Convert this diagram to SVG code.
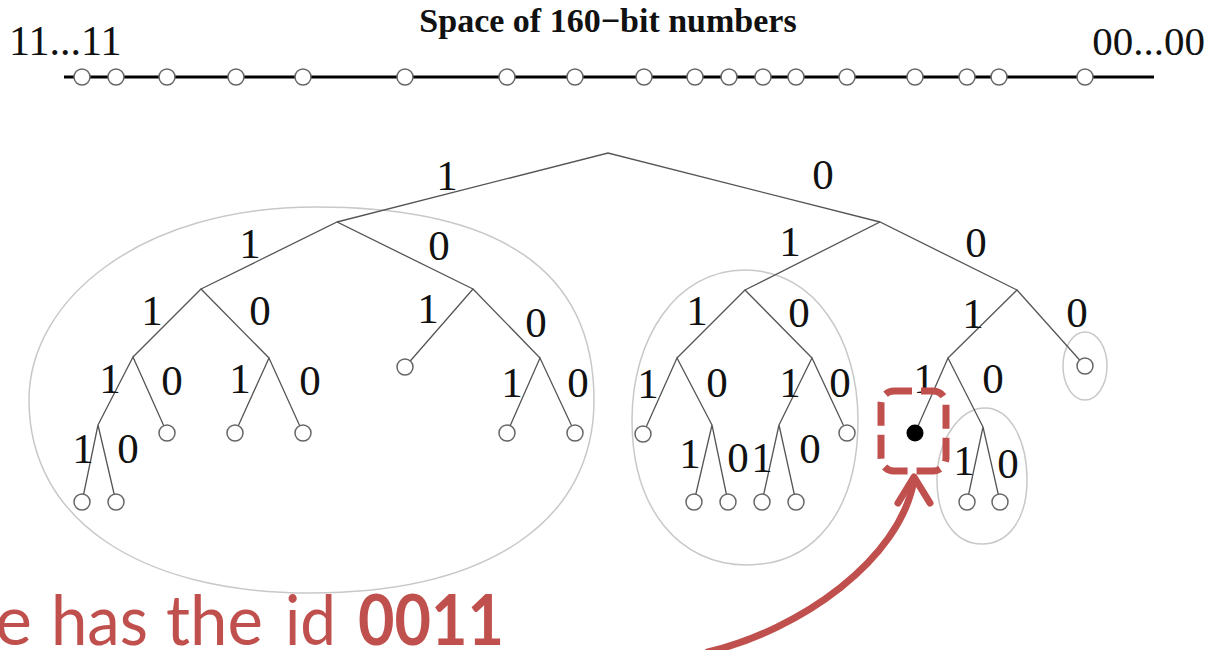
<svg xmlns="http://www.w3.org/2000/svg" width="1212" height="650" viewBox="0 0 1212 650">
<style>
.t{font-family:"Liberation Serif","Times New Roman",serif;fill:#111}
.lbl{font-family:"Liberation Serif","Times New Roman",serif;font-size:43px;fill:#111;text-anchor:middle}
.e{stroke:#555;stroke-width:1.3;fill:none}
.blob{fill:none;stroke:#c8c8c8;stroke-width:1.5}
.leaf{fill:#fff;stroke:#666;stroke-width:1.5}
.red{font-family:Lato,"Open Sans",sans-serif;font-size:70px;fill:#C0504D}
</style>
<rect width="1212" height="650" fill="#fff"/>
<g id="header">
<text class="t" x="9" y="55" font-size="42">11...11</text>
<text class="t" x="608" y="32" font-size="34" font-weight="bold" text-anchor="middle">Space of 160−bit numbers</text>
<text class="t" x="1205" y="55" font-size="41" text-anchor="end">00...00</text>
</g>
<g id="number-line">
<line x1="64" y1="77" x2="1154" y2="77" stroke="#000" stroke-width="3"/>
<g class="leaf">
<circle cx="82" cy="77" r="8"/><circle cx="116" cy="77" r="8"/><circle cx="167" cy="77" r="8"/><circle cx="236" cy="77" r="8"/><circle cx="303" cy="77" r="8"/><circle cx="405" cy="77" r="8"/><circle cx="507" cy="77" r="8"/><circle cx="575" cy="77" r="8"/><circle cx="644" cy="77" r="8"/><circle cx="695" cy="77" r="8"/><circle cx="729" cy="77" r="8"/><circle cx="763" cy="77" r="8"/><circle cx="796" cy="77" r="8"/><circle cx="847" cy="77" r="8"/><circle cx="915" cy="77" r="8"/><circle cx="967" cy="77" r="8"/><circle cx="999" cy="77" r="8"/><circle cx="1085" cy="77" r="8"/>
</g>
</g>
<g id="groups">
<path class="blob" d="M316 207 C500 207 594 270 594 400 C594 520 490 593 310 593 C140 593 29 520 29 400 C29 300 140 207 316 207 Z"/>
<path class="blob" d="M745 270 C815 270 858 340 858 420 C858 510 815 565 747 565 C680 565 632 510 632 420 C632 340 675 270 745 270 Z"/>
<ellipse class="blob" cx="1085" cy="366" rx="22" ry="34"/>
<path class="blob" d="M985 408 C1010 408 1027 440 1027 480 C1027 520 1008 544 982 544 C956 544 937 520 937 480 C937 440 960 408 985 408 Z"/>
</g>
<g id="connectors" class="e">
<polyline points="337,222 608,153 880,222"/>
<polyline points="201,289 337,222 473,289"/>
<polyline points="745,290 880,222 1017,290"/>
<polyline points="133,357 201,289 269,358"/>
<polyline points="405,367 473,289 540,358"/>
<polyline points="677,358 745,290 812,358"/>
<polyline points="948,358 1017,290 1085,366"/>
<polyline points="98,425 133,357 167,433"/>
<polyline points="235,433 269,358 303,433"/>
<polyline points="507,433 540,358 575,433"/>
<polyline points="643,434 677,358 712,425"/>
<polyline points="779,425 812,358 847,433"/>
<polyline points="915,433 948,358 983,427"/>
<polyline points="82,502 98,425 116,502"/>
<polyline points="694,502 712,425 728,502"/>
<polyline points="762,502 779,425 796,502"/>
<polyline points="967,502 983,427 1000,502"/>
</g>
<g id="leaves" class="leaf">
<circle cx="405" cy="367" r="8"/><circle cx="1085" cy="366" r="8"/>
<circle cx="167" cy="433" r="8"/><circle cx="235" cy="433" r="8"/><circle cx="303" cy="433" r="8"/><circle cx="507" cy="433" r="8"/><circle cx="575" cy="433" r="8"/><circle cx="643" cy="434" r="8"/><circle cx="847" cy="433" r="8"/>
<circle cx="82" cy="502" r="8"/><circle cx="116" cy="502" r="8"/><circle cx="694" cy="502" r="8"/><circle cx="728" cy="502" r="8"/><circle cx="762" cy="502" r="8"/><circle cx="796" cy="502" r="8"/><circle cx="967" cy="502" r="8"/><circle cx="1000" cy="502" r="8"/>
</g>
<g id="node-0011">
<circle cx="915" cy="433" r="8.5" fill="#000"/>
</g>
<g id="labels">
<text class="lbl" x="447" y="190">1</text><text class="lbl" x="823" y="189">0</text>
<text class="lbl" x="250" y="258">1</text><text class="lbl" x="439" y="260">0</text>
<text class="lbl" x="790" y="256">1</text><text class="lbl" x="976" y="257">0</text>
<text class="lbl" x="152" y="325">1</text><text class="lbl" x="260" y="325">0</text>
<text class="lbl" x="428" y="323">1</text><text class="lbl" x="536" y="337">0</text>
<text class="lbl" x="697" y="325">1</text><text class="lbl" x="799" y="327">0</text>
<text class="lbl" x="973" y="328">1</text><text class="lbl" x="1077" y="327">0</text>
<text class="lbl" x="110" y="393">1</text><text class="lbl" x="172" y="395">0</text>
<text class="lbl" x="240" y="393">1</text><text class="lbl" x="310" y="395">0</text>
<text class="lbl" x="512" y="397">1</text><text class="lbl" x="578" y="397">0</text>
<text class="lbl" x="648" y="398">1</text><text class="lbl" x="717" y="397">0</text>
<text class="lbl" x="790" y="397">1</text><text class="lbl" x="840" y="397">0</text>
<text class="lbl" x="924" y="393">1</text><text class="lbl" x="993" y="393">0</text>
<text class="lbl" x="83" y="463">1</text><text class="lbl" x="128" y="463">0</text>
<text class="lbl" x="690" y="468">1</text><text class="lbl" x="738" y="472">0</text>
<text class="lbl" x="762" y="472">1</text><text class="lbl" x="810" y="463">0</text>
<text class="lbl" x="964" y="475">1</text><text class="lbl" x="1008" y="478">0</text>
</g>
<g id="highlight" fill="none" stroke="#C0504D" stroke-width="7" stroke-linecap="round" stroke-linejoin="round">
<rect x="881" y="391" width="65" height="80" rx="13" stroke-dasharray="24 9" stroke-linecap="butt" stroke-dashoffset="6"/>
<path d="M708 652 C800 630 900 560 914 480"/>
<polyline points="898,503 914,477 930,503"/>
</g>
<g id="caption">
<text class="red" y="645"><tspan x="-5" textLength="36">e</tspan><tspan x="51" textLength="97" lengthAdjust="spacingAndGlyphs">has</tspan><tspan x="166" textLength="97" lengthAdjust="spacingAndGlyphs">the</tspan><tspan x="285" textLength="51" lengthAdjust="spacingAndGlyphs">id</tspan><tspan x="358" textLength="146" lengthAdjust="spacingAndGlyphs" font-weight="bold">0011</tspan></text>
</g>
</svg>
